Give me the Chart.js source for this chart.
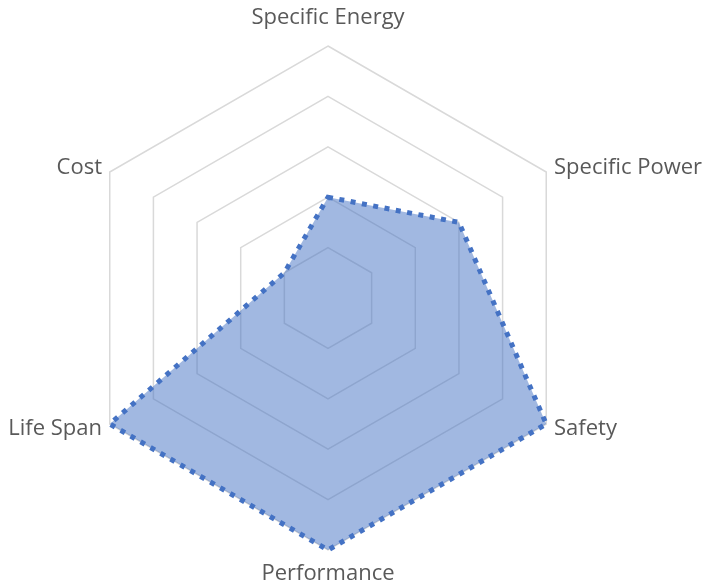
<!DOCTYPE html>
<html>
<head>
<meta charset="utf-8">
<script src="https://cdn.jsdelivr.net/npm/chart.js@4/dist/chart.umd.min.js"></script>
<style>
  html, body { margin: 0; padding: 0; background: #ffffff; }
  #wrap { width: 705px; height: 587px; }
</style>
</head>
<body>
<div id="wrap"><canvas id="radar" width="705" height="587"></canvas></div>
<script>
// Battery attribute ratings (0 = worst, 5 = best)
const categories = ['Specific Energy', 'Specific Power', 'Safety', 'Performance', 'Life Span', 'Cost'];
const ratings = [2, 3, 5, 5, 5, 1];
const scaleMin = 0;
const scaleMax = 5;
const scaleStep = 1;

const labelFont = '22px "Open Sans", Lato, sans-serif';
const labelColor = '#595959';

// Axis captions drawn just outside the outer ring at each spoke
const axisCaptions = {
  id: 'axisCaptions',
  afterDraw(chart) {
    const scale = chart.scales.r;
    const ctx = chart.ctx;
    ctx.save();
    ctx.font = labelFont;
    ctx.fillStyle = labelColor;
    ctx.textBaseline = 'alphabetic';
    categories.forEach((text, i) => {
      const p = scale.getPointPosition(i, scale.drawingArea + 9);
      const dx = p.x - scale.xCenter;
      let align = 'center';
      if (dx > 1) align = 'left';
      else if (dx < -1) align = 'right';
      ctx.textAlign = align;
      let y = p.y;
      if (align === 'center') {
        y += p.y < scale.yCenter ? -13 : 21;
      } else {
        y += 6;
      }
      ctx.fillText(text, p.x, y);
    });
    ctx.restore();
  }
};

new Chart(document.getElementById('radar'), {
  type: 'radar',
  data: {
    labels: categories,
    datasets: [{
      data: ratings,
      backgroundColor: 'rgba(68, 114, 196, 0.5)',
      borderColor: '#4472c4',
      borderWidth: 5,
      borderDash: [5, 6.5],
      borderCapStyle: 'butt',
      borderJoinStyle: 'miter',
      pointRadius: 0,
      pointHoverRadius: 0,
      fill: true
    }]
  },
  options: {
    responsive: false,
    animation: false,
    layout: { padding: { top: 46, bottom: 37, left: 76, right: 125 } },
    plugins: { legend: { display: false }, tooltip: { enabled: false } },
    scales: {
      r: {
        min: scaleMin,
        max: scaleMax,
        ticks: { stepSize: scaleStep, display: false },
        grid: { color: '#d9d9d9', lineWidth: 1.5, circular: false },
        angleLines: { display: false },
        pointLabels: { display: false }
      }
    }
  },
  plugins: [axisCaptions]
});
</script>
</body>
</html>
